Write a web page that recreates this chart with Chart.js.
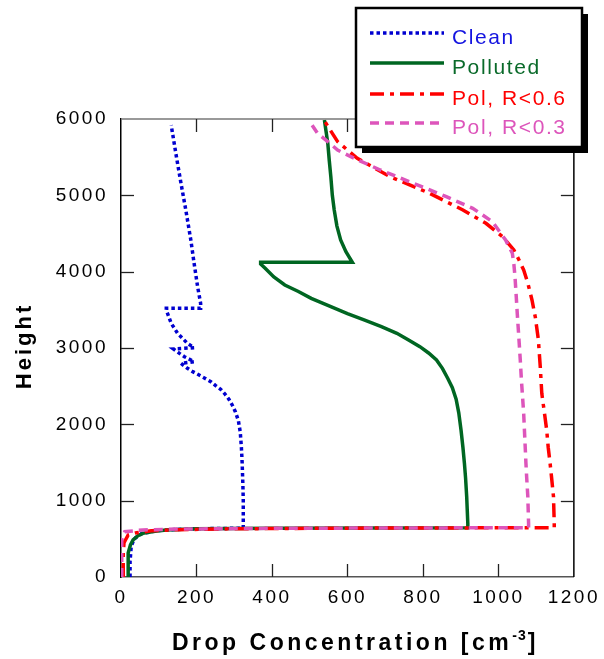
<!DOCTYPE html>
<html><head><meta charset="utf-8">
<script src="https://cdn.jsdelivr.net/npm/chart.js@4.4.0/dist/chart.umd.min.js"></script>
<style>html,body{margin:0;padding:0;background:#fff;}#wrap{width:604px;height:659px;position:relative;}</style>
</head><body><div id="wrap"><canvas id="c" width="604" height="659"></canvas></div>
<script>
// ---- Data ----
const xTickValues = [0, 200, 400, 600, 800, 1000, 1200];
const yTickValues = [0, 1000, 2000, 3000, 4000, 5000, 6000];
const seriesNames = ['Clean', 'Polluted', 'Pol, R<0.6', 'Pol, R<0.3'];

const cleanConc   = [24,24,27,35,55,100,180,324,324,324,323,321,319,316,311,303,295,286,275,264,250,238,222,207,190,176,159,194,168,155,139,194,176,163,150,133,120,120,211,211,203,194,185,172,159,147,133];
const cleanHeight = [0,200,400,500,570,610,630,640,700,1000,1200,1500,1700,1900,2050,2165,2250,2328,2400,2459,2510,2559,2605,2646,2690,2734,2799,2820,2886,2930,2987,3004,3061,3127,3192,3323,3498,3520,3520,3585,3803,4100,4415,4800,5157,5500,5920];

const pollConc   = [19,19,19,25,32,45,58,90,120,200,400,919,919,916,913,910,906,901,895,888,878,866,852,836,815,792,762,731,690,644,600,556,504,470,434,405,382,370,370,613,596,582,572,565,560,556,552,548,543,539];
const pollHeight = [0,150,314,420,485,540,572,600,616,632,640,646,700,1052,1300,1490,1700,1926,2150,2330,2480,2600,2730,2843,2935,3017,3105,3192,3280,3367,3450,3541,3651,3740,3825,3930,4044,4100,4122,4122,4262,4415,4600,4808,5000,5244,5450,5681,5850,5987];

const r06Conc   = [6,6,6,8,19,41,80,150,300,600,1148,1148,1146,1141,1137,1132,1128,1122,1115,1111,1106,1098,1089,1078,1067,1055,1041,1011,967,906,818,713,626,574,555,539];
const r06Height = [0,150,310,450,550,580,605,620,632,640,646,700,1052,1300,1490,1700,1926,2150,2406,2750,3105,3400,3629,3850,4022,4150,4284,4458,4634,4808,5026,5244,5485,5703,5850,5978];

const r03Conc   = [2,2,2,10,58,150,400,1080,1080,1078,1075,1073,1067,1061,1058,1054,1050,1047,1044,1041,1037,1019,984,932,862,775,687,609,574,548,521,500];
const r03Height = [0,150,485,594,616,628,638,646,700,1052,1300,1490,2144,2581,2843,3150,3455,3700,3934,4100,4241,4415,4655,4830,4982,5157,5332,5506,5594,5703,5812,5965];

// ---- Styles ----
const colors = ['#0000D0', '#006622', '#FF0000', '#DD55BB'];
const textColors = ['#1414E0', '#0A6A2A', '#FF0000', '#DD55BB'];
const dashes = [[3.5,3], [], [14,6,4,6], [9,6]];
const widths = [3.5, 3.5, 3.5, 3.5];

function pts(xs, ys){ return xs.map((v,i)=>({x:v, y:ys[i]})); }
const seriesData = [pts(cleanConc,cleanHeight), pts(pollConc,pollHeight), pts(r06Conc,r06Height), pts(r03Conc,r03Height)];
const drawOrder = [4,3,2,1];

const FONT = '"Liberation Sans", Arial, sans-serif';

function ln(ctx,x1,y1,x2,y2){ctx.beginPath();ctx.moveTo(x1,y1);ctx.lineTo(x2,y2);ctx.stroke();}

const framePlugin = {
  id: 'framePlugin',
  beforeDraw(chart){ chart.ctx.letterSpacing = '2.5px'; },
  afterDraw(chart){
    const {ctx, chartArea:a, scales:{x, y}} = chart;
    ctx.save();
    ctx.letterSpacing = '0px';
    // top and right borders
    ctx.lineWidth = 1.5;
    ctx.strokeStyle = '#777'; ln(ctx, a.left, a.top, a.right, a.top);
    ctx.strokeStyle = '#000'; ln(ctx, a.right, a.top-0.75, a.right, a.bottom);
    // inward ticks
    ctx.strokeStyle = '#222'; ctx.lineWidth = 1.3;
    xTickValues.forEach(v=>{
      if (v===x.min || v===x.max) return;
      const p = Math.round(x.getPixelForValue(v))+0.5;
      ln(ctx,p,a.bottom,p,a.bottom-13); ln(ctx,p,a.top,p,a.top+13);
    });
    yTickValues.forEach(v=>{
      if (v===y.min || v===y.max) return;
      const p = Math.round(y.getPixelForValue(v))+0.5;
      ln(ctx,a.left,p,a.left+13,p); ln(ctx,a.right,p,a.right-13,p);
    });
    // x-axis title with superscript
    ctx.fillStyle = '#000';
    ctx.textBaseline = 'alphabetic';
    ctx.textAlign = 'left';
    ctx.letterSpacing = '3.5px';
    ctx.font = 'bold 23px ' + FONT;
    let tx = 172; const by = 650;
    const main = 'Drop Concentration [cm';
    ctx.fillText(main, tx, by); tx += ctx.measureText(main).width;
    ctx.font = 'bold 14px ' + FONT; ctx.letterSpacing = '1px';
    ctx.fillText('-3', tx, by-10); tx += ctx.measureText('-3').width + 1;
    ctx.font = 'bold 23px ' + FONT; ctx.letterSpacing = '3px';
    ctx.fillText(']', tx, by);
    // y-axis title
    ctx.save();
    ctx.translate(31, 346);
    ctx.rotate(-Math.PI/2);
    ctx.textAlign = 'center';
    ctx.letterSpacing = '3px';
    ctx.font = 'bold 22px ' + FONT;
    ctx.fillText('Height', 0, 0);
    ctx.restore();
    // legend box with shadow
    const L = 356, T = 8, R = 582, B = 147;
    ctx.fillStyle = '#000';
    ctx.fillRect(L+6, T+6, R-L, B-T);
    ctx.fillStyle = '#fff';
    ctx.fillRect(L, T, R-L, B-T);
    ctx.lineWidth = 2.5; ctx.strokeStyle = '#000';
    ctx.strokeRect(L, T, R-L, B-T);
    const rows = [33, 63, 94, 123];
    ctx.font = '21px ' + FONT;
    ctx.letterSpacing = '1.6px';
    seriesNames.forEach((name,i)=>{
      ctx.save();
      ctx.strokeStyle = colors[i]; ctx.lineWidth = 3.5; ctx.setLineDash(dashes[i]); ctx.lineCap='butt';
      ln(ctx, 370, rows[i], 444, rows[i]);
      ctx.restore();
      ctx.fillStyle = textColors[i];
      ctx.fillText(name, 452, rows[i]+11);
    });
    ctx.restore();
  }
};

new Chart(document.getElementById('c'), {
  type: 'scatter',
  data: {
    datasets: seriesNames.map((name,i)=>({
      label: name,
      data: seriesData[i],
      showLine: true,
      borderColor: colors[i],
      backgroundColor: colors[i],
      borderWidth: widths[i],
      borderDash: dashes[i],
      borderCapStyle: 'butt',
      pointRadius: 0,
      tension: 0,
      fill: false,
      order: drawOrder[i]
    }))
  },
  options: {
    responsive: false,
    animation: false,
    devicePixelRatio: 1,
    layout: { padding: { top: 119, right: 25, left: 0, bottom: 0 } },
    plugins: { legend: { display: false }, tooltip: { enabled: false } },
    scales: {
      x: {
        type: 'linear', min: 0, max: 1200,
        afterBuildTicks: s => { s.ticks = xTickValues.map(v=>({value:v})); },
        afterFit: s => { s.height = 82; },
        grid: { display: false, drawTicks: false },
        border: { display: true, color: '#555', width: 1.5 },
        ticks: { autoSkip: false, maxRotation: 0, padding: 9, color: '#000',
                 font: { family: FONT, size: 19 }, callback: v => String(v) }
      },
      y: {
        type: 'linear', min: 0, max: 6000,
        afterBuildTicks: s => { s.ticks = yTickValues.map(v=>({value:v})); },
        afterFit: s => { s.width = 121; },
        grid: { display: false, drawTicks: false },
        border: { display: true, color: '#000', width: 1.5 },
        ticks: { autoSkip: false, padding: 13, color: '#000',
                 font: { family: FONT, size: 19 }, callback: v => String(v) }
      }
    }
  },
  plugins: [framePlugin]
});
</script>
</body></html>
